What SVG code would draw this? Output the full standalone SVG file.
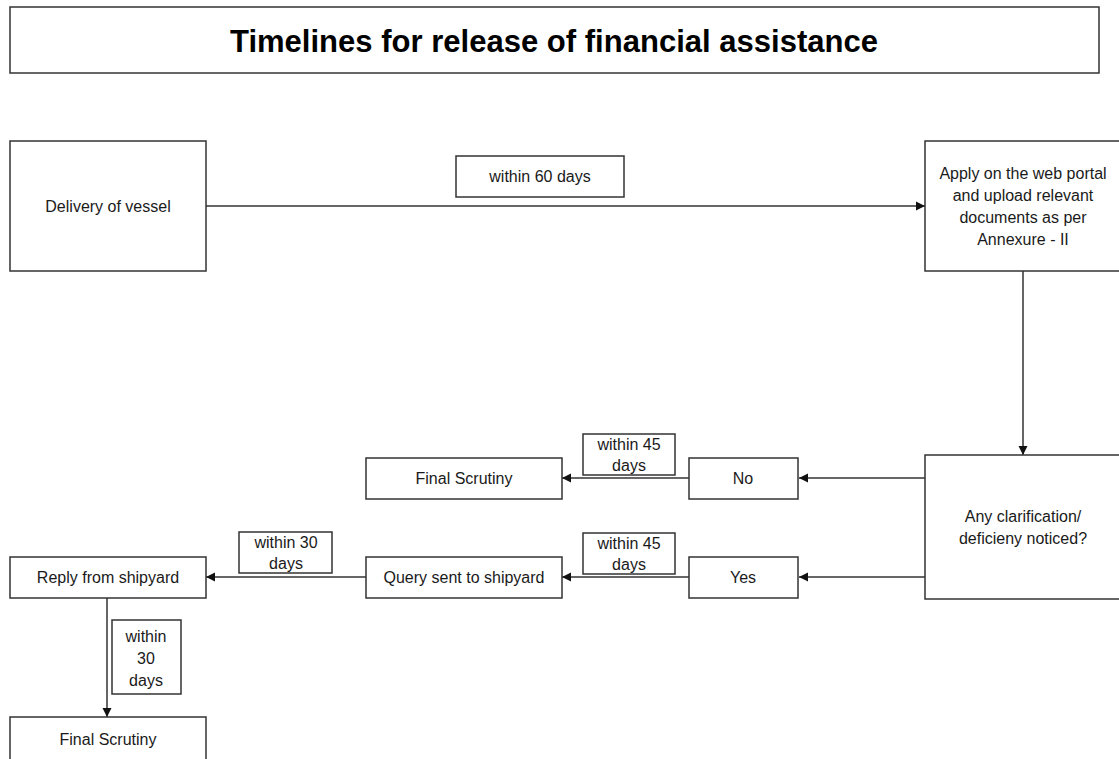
<svg xmlns="http://www.w3.org/2000/svg" width="1119" height="759" viewBox="0 0 1119 759">
<defs>
<marker id="ah" markerWidth="10" markerHeight="10" refX="9" refY="5" orient="auto" markerUnits="userSpaceOnUse">
<path d="M0,0.5 L9,5 L0,9.5 Z" fill="#111"/>
</marker>
<style>
.box{fill:#fff;stroke:#333;stroke-width:1.5}
.t{font-family:"Liberation Sans",Arial,sans-serif;font-size:16px;fill:#1a1a1a;text-anchor:middle}
.c{stroke:#333;stroke-width:1.5;fill:none}
</style>
</defs>
<rect width="1119" height="759" fill="#fff"/>
<g id="title">
<rect class="box" x="10" y="7" width="1089" height="66"/>
<text x="554" y="52" font-family="Liberation Sans,Arial,sans-serif" font-weight="bold" font-size="31" text-anchor="middle" fill="#000" textLength="648" lengthAdjust="spacingAndGlyphs">Timelines for release of financial assistance</text>
</g>
<g id="connectors">
<line class="c" x1="206" y1="206" x2="925" y2="206" marker-end="url(#ah)"/>
<line class="c" x1="1023" y1="271" x2="1023" y2="455" marker-end="url(#ah)"/>
<line class="c" x1="925" y1="478" x2="799" y2="478" marker-end="url(#ah)"/>
<line class="c" x1="689" y1="478" x2="562" y2="478" marker-end="url(#ah)"/>
<line class="c" x1="925" y1="577" x2="799" y2="577" marker-end="url(#ah)"/>
<line class="c" x1="689" y1="577" x2="562" y2="577" marker-end="url(#ah)"/>
<line class="c" x1="366" y1="577" x2="206" y2="577" marker-end="url(#ah)"/>
<line class="c" x1="107" y1="598" x2="107" y2="717" marker-end="url(#ah)"/>
</g>
<g id="delivery">
<rect class="box" x="10" y="141" width="196" height="130"/>
<text class="t" x="108" y="212">Delivery of vessel</text>
</g>
<g id="label60">
<rect class="box" x="456" y="156" width="168" height="41"/>
<text class="t" x="540" y="182">within 60 days</text>
</g>
<g id="apply">
<rect class="box" x="925" y="141" width="198" height="130"/>
<text class="t" x="1023" y="179">Apply on the web portal</text>
<text class="t" x="1023" y="201">and upload relevant</text>
<text class="t" x="1023" y="223">documents as per</text>
<text class="t" x="1023" y="245">Annexure - II</text>
</g>
<g id="clarification">
<rect class="box" x="925" y="455" width="198" height="144"/>
<text class="t" x="1023" y="522">Any clarification/</text>
<text class="t" x="1023" y="544">deficieny noticed?</text>
</g>
<g id="no">
<rect class="box" x="689" y="458" width="109" height="41"/>
<text class="t" x="743" y="484">No</text>
</g>
<g id="label45a">
<rect class="box" x="583" y="434" width="92" height="41"/>
<text class="t" x="629" y="450">within 45</text>
<text class="t" x="629" y="471">days</text>
</g>
<g id="final1">
<rect class="box" x="366" y="458" width="196" height="41"/>
<text class="t" x="464" y="484">Final Scrutiny</text>
</g>
<g id="yes">
<rect class="box" x="689" y="557" width="109" height="41"/>
<text class="t" x="743" y="583">Yes</text>
</g>
<g id="label45b">
<rect class="box" x="583" y="533" width="92" height="41"/>
<text class="t" x="629" y="549">within 45</text>
<text class="t" x="629" y="570">days</text>
</g>
<g id="query">
<rect class="box" x="366" y="557" width="196" height="41"/>
<text class="t" x="464" y="583">Query sent to shipyard</text>
</g>
<g id="label30a">
<rect class="box" x="239" y="532" width="93" height="41"/>
<text class="t" x="286" y="548">within 30</text>
<text class="t" x="286" y="569">days</text>
</g>
<g id="reply">
<rect class="box" x="10" y="557" width="196" height="41"/>
<text class="t" x="108" y="583">Reply from shipyard</text>
</g>
<g id="label30b">
<rect class="box" x="112" y="620" width="69" height="74"/>
<text class="t" x="146" y="642">within</text>
<text class="t" x="146" y="664">30</text>
<text class="t" x="146" y="686">days</text>
</g>
<g id="final2">
<rect class="box" x="10" y="717" width="196" height="44"/>
<text class="t" x="108" y="745">Final Scrutiny</text>
</g>
</svg>
